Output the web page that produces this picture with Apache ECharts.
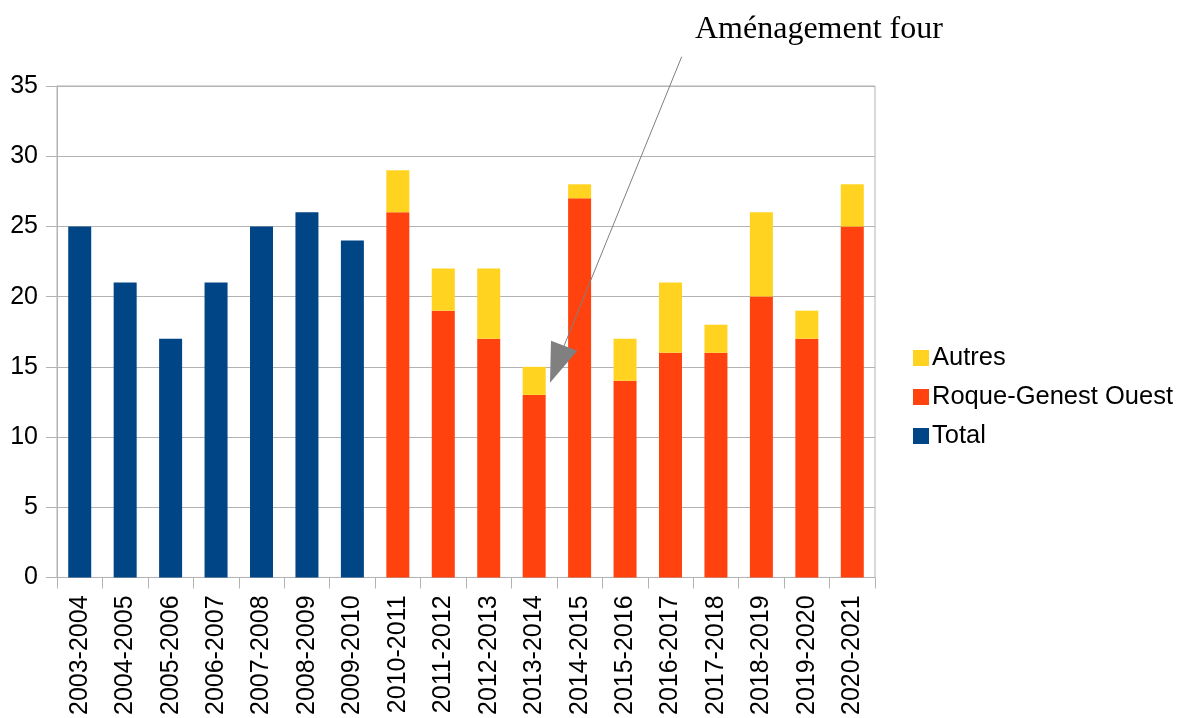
<!DOCTYPE html>
<html><head><meta charset="utf-8">
<script src="https://cdn.jsdelivr.net/npm/echarts@6/dist/echarts.min.js"></script>
<style>html,body{margin:0;padding:0;background:#fff}#c{width:1177px;height:718px}</style>
</head><body><div id="c"></div>
<script>
const categories = ["2003-2004","2004-2005","2005-2006","2006-2007","2007-2008","2008-2009","2009-2010","2010-2011","2011-2012","2012-2013","2013-2014","2014-2015","2015-2016","2016-2017","2017-2018","2018-2019","2019-2020","2020-2021"];
const totalValues = [25,21,17,21,25,26,24,null,null,null,null,null,null,null,null,null,null,null];
const roqueValues = [null,null,null,null,null,null,null,26,19,17,13,27,14,16,16,20,17,25];
const autresValues = [null,null,null,null,null,null,null,3,3,5,2,1,3,5,2,6,2,3];
const yTicks = [0,5,10,15,20,25,30,35];
const annotationText = "Aménagement four";

const chart = echarts.init(document.getElementById('c'), null, {renderer:'canvas'});
const grey = '#b3b3b3';
const font = '"Liberation Sans", Arial, sans-serif';
chart.setOption({
  animation:false,
  backgroundColor:'#fff',
  grid:{left:57,right:302,top:86,bottom:139,show:true,borderColor:grey,borderWidth:1,backgroundColor:'transparent'},
  legend:{
    orient:'vertical', left:908, top:340,
    data:['Autres','Roque-Genest Ouest','Total'],
    itemWidth:16,itemHeight:16,itemGap:13,icon:'rect',
    textStyle:{fontFamily:font,fontSize:25.5,color:'#000',padding:[0,0,0,-2]}
  },
  xAxis:{
    type:'category',data:categories,
    axisLine:{lineStyle:{color:grey}},
    axisTick:{show:true,length:11,lineStyle:{color:grey},alignWithLabel:false},
    axisLabel:{rotate:90,interval:0,fontFamily:font,fontSize:25,color:'#000',margin:18}
  },
  yAxis:{
    type:'value',min:0,max:35,interval:5,
    axisLine:{show:true,lineStyle:{color:grey}},
    axisTick:{show:true,length:11,lineStyle:{color:grey}},
    splitLine:{lineStyle:{color:grey}},
    axisLabel:{fontFamily:font,fontSize:25,color:'#000',margin:19,
      formatter:v=>yTicks.includes(v)?String(v):''}
  },
  series:[
    {name:'Total',type:'bar',stack:'s',data:totalValues,barWidth:23,itemStyle:{color:'#004586'}},
    {name:'Roque-Genest Ouest',type:'bar',stack:'s',data:roqueValues,barWidth:23,itemStyle:{color:'#ff420e'}},
    {name:'Autres',type:'bar',stack:'s',data:autresValues,barWidth:23,itemStyle:{color:'#ffd320'}}
  ],
  graphic:[
    {type:'text',z:100,left:695,top:14,style:{text:annotationText,font:'32px "Liberation Serif", "Times New Roman", serif',fill:'#000'}},
    {type:'line',z:100,shape:{x1:681.7,y1:56.7,x2:564,y2:346},style:{stroke:'#808080',lineWidth:1}},
    {type:'polygon',z:100,shape:{points:[[551,340.7],[577.3,350.7],[550,382.7]]},style:{fill:'#808080'}}
  ]
});
</script></body></html>
